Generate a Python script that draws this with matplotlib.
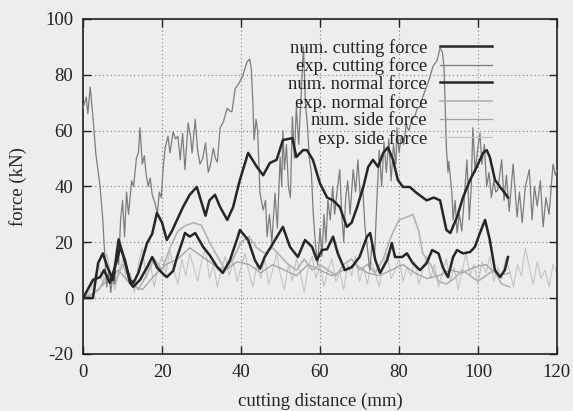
import numpy as np
import matplotlib
matplotlib.use('Agg')
import matplotlib.pyplot as plt
from matplotlib.patches import Rectangle

plt.rcParams['font.family'] = ['Liberation Serif', 'DejaVu Serif']
plt.rcParams['axes.unicode_minus'] = False

# num. cutting force (dark thick)
num_cut_x = [0, 2.5, 3.8, 5.0, 6.2, 7.6, 9.0, 10.0, 11.9, 12.7, 14.0, 16.2, 17.5, 18.7, 20.0, 21.2,
             22.5, 23.8, 25.3, 27.0, 28.8, 31.0, 32.0, 33.4, 34.7, 36.5, 38.0, 39.7, 41.8, 44.0,
             45.6, 47.3, 49.0, 50.6, 53.0, 54.0, 55.7, 56.7, 58.2, 60.0, 61.8, 63.3, 65.0, 66.8,
             68.0, 69.4, 71.0, 72.2, 73.4, 74.7, 76.0, 77.2, 78.5, 79.7, 81.0, 82.7, 84.5, 87.0,
             88.8, 90.4, 92.0, 93.0, 94.7, 96.2, 98.0, 99.7, 101.3, 102.2, 103.0, 104.3, 105.6,
             106.8, 107.6]
num_cut_y = [0, 0, 12.5, 16, 11, 6.5, 21, 16, 6.5, 5.4, 9, 19.7, 23, 30.5, 27, 20.8,
             24, 28, 32.6, 37, 39.8, 29.5, 35, 37, 32.6, 28, 32.6, 42.3, 52, 47,
             44, 48.4, 49.5, 56.6, 57.3, 50.5, 53, 53, 49.5, 41, 36, 35, 32.6, 25.5,
             27, 32.6, 40, 47, 49.5, 47, 52, 54, 49.5, 42.3, 39.8, 39.8, 37.6, 35,
             36, 35, 24.4, 23.3, 29, 36, 42.3, 47, 52, 53, 50.5, 42.3, 39.8,
             37.6, 36]

# exp. cutting force (grey, noisy)
exp_cut_x = [0, 0.8, 1.2, 1.8, 2.5, 3.2, 4.3, 5.0, 5.3, 5.6, 6.0, 6.5, 7.0, 7.5, 8.0, 8.5, 9.0,
             9.5, 10.0, 10.5, 11.0, 11.5, 12.3, 12.8, 13.5, 14.0, 14.4, 15.0, 15.5, 16.0, 16.5,
             17.0, 17.5, 18.2, 18.8, 19.3, 19.8, 20.3, 20.8, 21.5, 22.0, 22.8, 23.4, 24.0, 24.6,
             25.2, 25.8, 26.6, 27.2, 27.6, 28.4, 29.0, 29.6, 30.3, 31.0, 31.7, 32.3, 33.0, 33.5,
             34.0, 34.7, 35.5, 36.5, 37.2, 37.7, 38.5, 39.5, 40.5, 41.5, 42.2, 42.6, 43.0, 43.3,
             43.8, 44.2, 44.8, 45.6, 46.2, 46.6, 47.2, 47.8, 48.6, 49.2, 49.9, 50.3, 50.6, 51.0,
             51.5, 52.0, 52.5, 53.0, 53.5, 54.0, 54.6, 55.3, 55.8, 56.3, 56.8, 57.3, 57.8, 58.3,
             58.8, 59.4, 60.0, 60.5, 61.0, 61.5, 62.0, 62.6, 63.2, 63.7, 64.3, 65.0, 65.5, 66.0,
             66.5, 67.0, 67.6, 68.4, 69.0, 69.6, 70.2, 70.8, 71.4, 72.0, 72.6, 73.2, 73.8, 74.4,
             75.0, 75.6, 76.2, 76.8, 77.4, 78.0, 78.6, 79.2, 79.5, 80.0, 80.6, 81.2, 81.8, 82.5,
             83.2, 84.0, 84.6, 85.3, 86.0, 86.8, 87.8, 88.6, 89.6, 90.4, 91.0, 91.4, 92.0, 92.4,
             92.6, 93.4, 93.7, 94.2, 94.7, 95.3, 95.9, 96.5, 97.2, 97.8, 98.3, 98.7, 99.3, 99.8,
             100.5, 101.0, 101.6, 102.2, 102.8, 103.4, 104.0, 104.5, 105.0, 106.0, 106.6, 107.2,
             107.9, 108.9, 109.9, 110.5, 111.2, 112.0, 113.0, 113.7, 114.3, 115.0, 115.8, 116.5,
             117.2, 118.0, 119.0, 119.6, 120.0]
exp_cut_y = [68, 72, 66, 75.6, 65, 52, 40, 28, 20, 13, 4, 10, 2, 8, 5, 18, 12,
             28, 35, 22, 38, 30, 42, 40, 50, 52, 61, 48, 51, 44, 40,
             43, 37, 34, 30, 38, 36, 47, 54, 58, 52, 59.5, 57, 58, 49.5,
             59, 46, 62.7, 58, 52, 64, 53, 48, 50, 55.6, 45, 48, 53.7, 50,
             48.7, 61, 63, 68, 67, 66.7, 75, 77, 80, 84.6, 85.6, 82, 70, 56.6,
             64, 60, 37.6, 31.5, 35, 22, 30, 20, 37.6, 25, 50.5, 40, 60, 46,
             55, 40, 36, 65, 50, 68.5, 55, 75, 90, 70, 62, 50, 45, 30,
             20, 12, 25, 15, 30, 20, 35, 28, 40, 30, 38, 46, 30, 20,
             36, 42, 30, 46, 38, 49.5, 36, 40, 25, 18, 10, 20, 15, 35,
             53, 40, 56, 45, 57, 42, 55, 48, 61, 52, 58, 55, 62, 60,
             64, 65, 68, 68.5, 72, 75, 79, 83, 85, 89.6, 88, 83, 54, 45,
             49, 37.6, 28, 35, 23.3, 30, 24, 35, 49.5, 28, 40, 61, 45, 52,
             59, 48, 55, 40, 45, 36, 42, 38, 38.7, 49.5, 35, 44,
             31, 48, 29, 38, 27, 40, 46, 28, 40, 33, 42, 25.5,
             36, 30, 48, 44, 46]

# num. normal force (dark thick)
num_norm_x = [0, 2.5, 4.3, 5.3, 6.8, 8.6, 9.4, 10.6, 11.9, 12.7, 14.4, 16.2, 17.5, 18.7, 20.0,
              21.2, 22.8, 23.8, 25.0, 25.8, 27.0, 28.4, 30.4, 32.0, 34.0, 35.4, 37.2, 39.2, 39.7,
              41.8, 43.5, 44.8, 46.0, 48.6, 50.6, 52.4, 54.4, 56.2, 58.0, 59.2, 60.5, 61.8, 63.3,
              64.5, 66.3, 68.0, 70.0, 71.9, 72.7, 74.0, 75.2, 77.0, 78.2, 79.0, 80.8, 82.0, 83.5,
              85.3, 87.0, 88.4, 90.0, 91.1, 92.4, 93.7, 94.7, 96.2, 98.0, 99.2, 100.5, 101.8,
              103.0, 104.3, 105.6, 106.8, 107.6]
num_norm_y = [0, 6.5, 7.5, 10, 5.4, 13.6, 18.3, 13.6, 5.4, 4, 6.5, 11, 14.7, 11, 9,
              7.5, 9.7, 14.7, 19.7, 23.3, 22, 23.3, 18.3, 15.5, 11, 9, 13.6, 22, 24.4,
              20.8, 13.6, 10.5, 14.7, 20.8, 25.5, 18.3, 14.7, 20.8, 18.3, 13.6, 17.2, 17.5, 22,
              16, 10, 11, 14.7, 22, 23.3, 13.6, 9, 13.6, 19.7, 14.7, 14.7, 16, 12.5,
              10, 12.5, 17.2, 16, 11, 7.5, 14.7, 17.2, 16, 16.5, 18.3, 23.3, 28,
              20.8, 10, 7.5, 10, 14.7]

# exp. normal force (light grey)
exp_norm_x = [0, 2, 4, 6, 8, 10, 12, 14, 16, 18, 20, 22, 24, 26, 28, 30, 32, 34, 36, 38, 40, 42,
              44, 46, 48, 50, 52, 54, 56, 58, 60, 62, 64, 66, 68, 70, 72, 74, 76, 78, 80, 82,
              83.5, 85, 86, 88, 90, 92, 94, 96, 98, 100, 102, 104, 106, 108]
exp_norm_y = [0, 1, 3, 8, 5, 12, 6, 3, 8, 14, 10, 18, 24, 26, 27, 26, 20, 15, 10, 14, 20, 22,
              18, 16, 18, 15, 12, 10, 14, 10, 12, 10, 8, 12, 14, 10, 12, 9, 14, 22, 28, 29,
              30, 24, 16, 12, 6, 5, 7, 10, 8, 6, 8, 10, 5, 4]

# num. side force (mid grey)
num_side_x = [0, 3, 6, 9, 12, 15, 18, 21, 24, 27, 30, 33, 36, 39, 42, 45, 48, 51, 54, 57, 60, 63,
              66, 69, 72, 75, 78, 81, 84, 87, 90, 93, 96, 99, 102, 105, 108]
num_side_y = [0, 2, 6, 10, 5, 3, 8, 12, 14, 18, 15, 12, 10, 13, 12, 9, 12, 10, 8, 12, 10, 8,
              10, 12, 9, 8, 10, 12, 9, 7, 8, 10, 9, 11, 12, 8, 9]

# exp. side force (light grey, noisy), sampled every 1 mm
exp_side_y = [0, 1, 3, 8, 12, 5, 16, 8, 3, 10, 14, 6, 9, 2, 12, 18, 7, 13, 4, 11,
              15, 9, 17, 10, 5, 14, 8, 16, 11, 6, 13, 18, 7, 12, 4, 10, 15, 8, 13, 6,
              11, 16, 9, 4, 12, 7, 14, 5, 10, 16, 8, 3, 12, 6, 14, 9, 2, 11, 15, 7,
              12, 4, 10, 14, 6, 9, 3, 12, 8, 15, 6, 11, 5, 13, 9, 4, 12, 16, 7, 10,
              14, 6, 11, 8, 13, 5, 10, 15, 7, 12, 4, 9, 14, 6, 11, 3, 10, 16, 8, 12,
              5, 13, 9, 15, 6, 11, 7, 14, 10, 4, 12, 8, 18, 11, 5, 13, 7, 10, 4, 12, 9]
exp_side_x = np.arange(len(exp_side_y))

labels = ['num. cutting force', 'exp. cutting force', 'num. normal force',
          'exp. normal force', 'num. side force', 'exp. side force']

bg = '#ededeb'
ink = '#222222'
fs = 13.5
fig = plt.figure(figsize=(5.73, 4.11), dpi=100, facecolor=bg)
ax = fig.add_axes([0.145, 0.139, 0.827, 0.815], facecolor=bg)

ax.grid(True, color='#808080', linestyle=(0, (1, 2.5)), linewidth=0.8, zorder=0)
ax.set_axisbelow(True)
# gnuplot leaves the grid out behind the key
ax.add_patch(Rectangle((36, 50), 69.5, 50, facecolor=bg, edgecolor='none', zorder=0.5))

l1, = ax.plot(num_cut_x, num_cut_y, color='#262626', lw=1.8, zorder=6)
l2, = ax.plot(exp_cut_x, exp_cut_y, color='#7c7c7c', lw=0.9, zorder=4)
l3, = ax.plot(num_norm_x, num_norm_y, color='#262626', lw=1.8, zorder=5)
l4, = ax.plot(exp_norm_x, exp_norm_y, color='#b2b2b2', lw=1.2, zorder=3)
l5, = ax.plot(num_side_x, num_side_y, color='#a0a0a0', lw=0.9, zorder=2)
l6, = ax.plot(exp_side_x, exp_side_y, color='#c4c4c4', lw=0.8, zorder=1)

ax.set_xlim(0, 120)
ax.set_ylim(-20, 100)
ax.set_xticks(range(0, 121, 20))
ax.set_yticks(range(-20, 101, 20))
ax.tick_params(direction='in', length=6, width=1, top=True, right=True,
               labelsize=fs, colors=ink, pad=7)
for s in ax.spines.values():
    s.set_linewidth(1.2)
    s.set_color(ink)

ax.set_xlabel('cutting distance (mm)', fontsize=fs, color=ink)
ax.set_ylabel('force (kN)', fontsize=fs, color=ink)
ax.xaxis.set_label_coords(0.5, -0.116)
ax.yaxis.set_label_coords(-0.118, 0.5)

leg = ax.legend([l1, l2, l3, l4, l5, l6], labels, loc='upper right',
                bbox_to_anchor=(0.863, 0.941), markerfirst=False, frameon=False,
                fontsize=13.4, handlelength=2.8, handletextpad=0.7, labelspacing=0.04,
                borderpad=0, borderaxespad=0)
for t in leg.get_texts():
    t.set_color(ink)

fig.savefig('out.png', dpi=100, facecolor=bg)
